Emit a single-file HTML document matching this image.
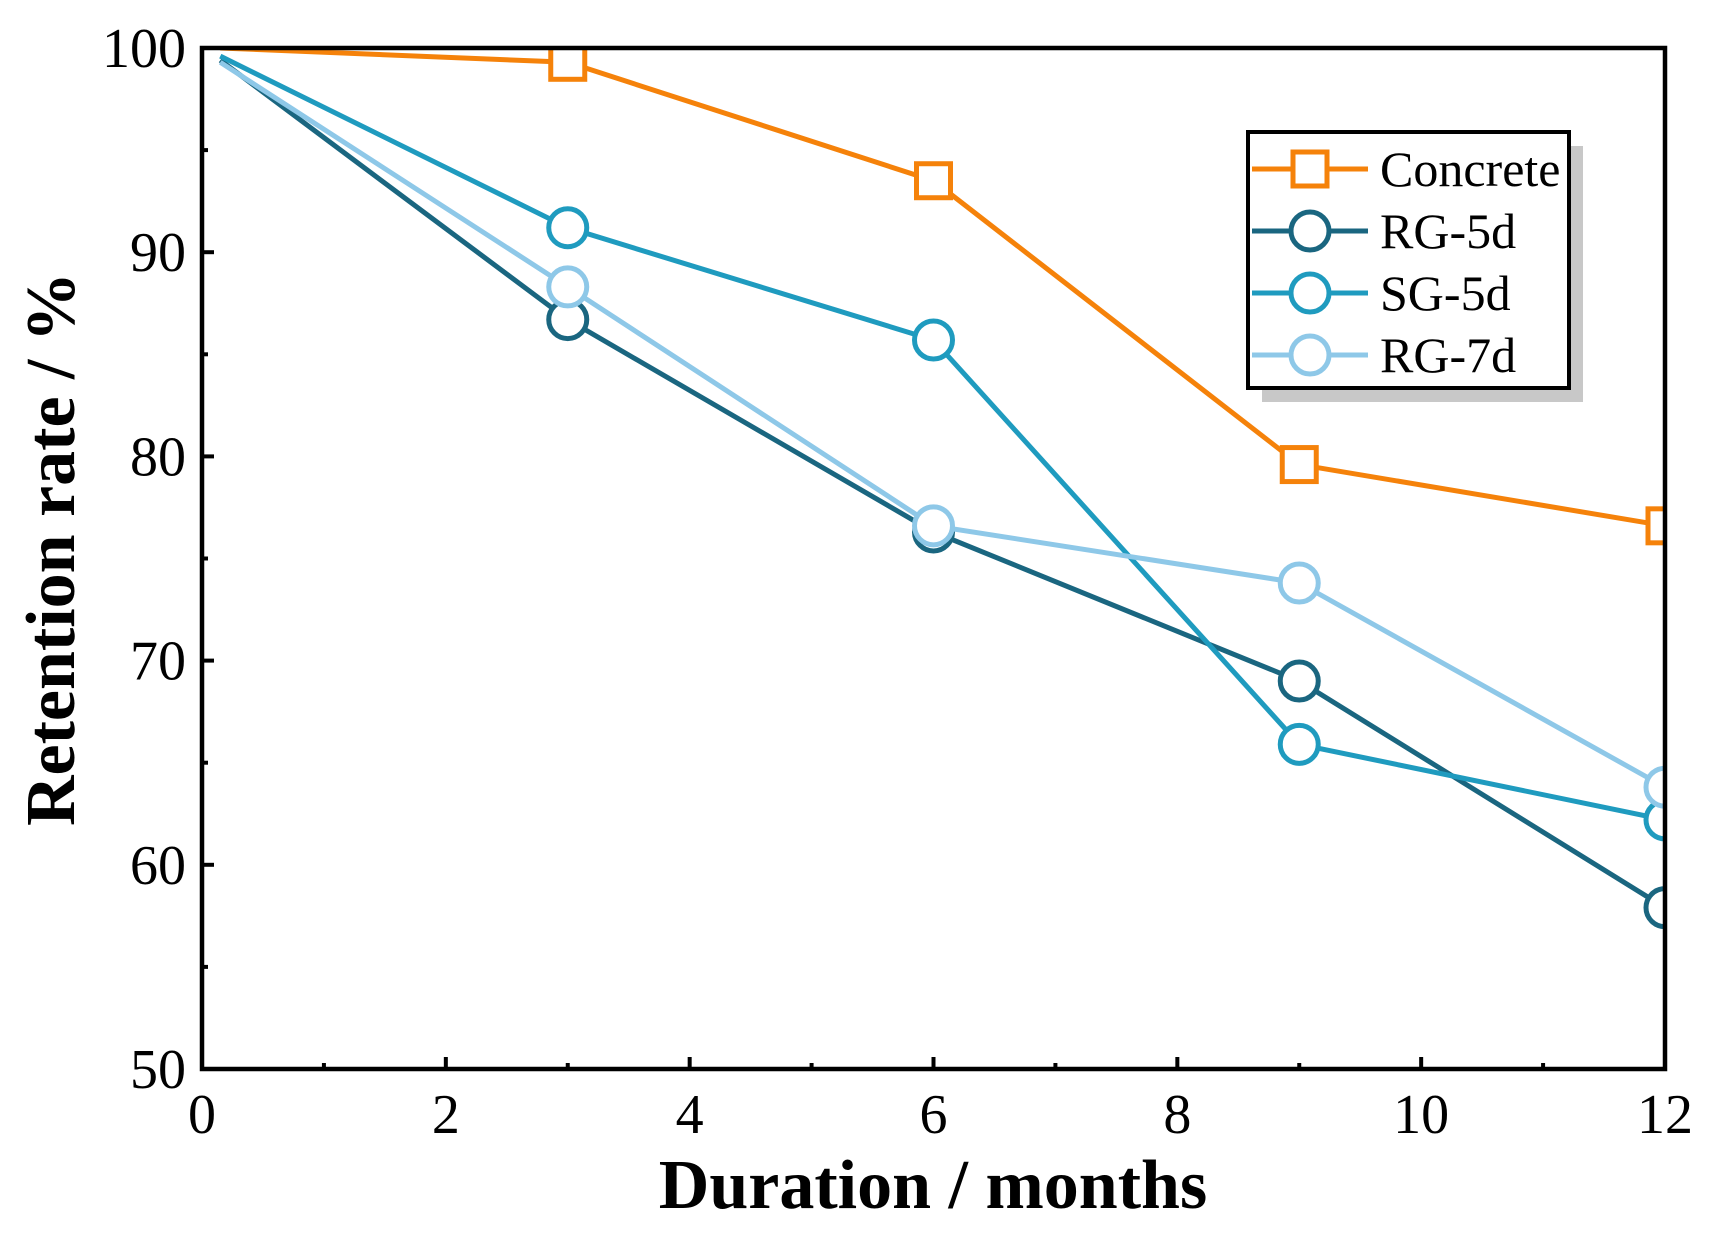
<!DOCTYPE html>
<html><head><meta charset="utf-8"><style>
html,body{margin:0;padding:0;background:#fff;}
svg{display:block;font-family:"Liberation Serif",serif;}
</style></head><body>
<svg id="chart" width="1712" height="1240" viewBox="0 0 1712 1240" xmlns="http://www.w3.org/2000/svg">
<defs><clipPath id="plotclip"><rect x="202" y="48" width="1463" height="1021"/></clipPath></defs>
<g id="axes"></g>
<g id="series" clip-path="url(#plotclip)"></g>
<rect x="202" y="48" width="1463" height="1021" fill="none" stroke="#000" stroke-width="4.5"/>
<g id="legend"></g>
<text x="933" y="1208" font-size="70" font-weight="bold" text-anchor="middle">Duration / months</text>
<text transform="translate(74,549) rotate(-90)" font-size="70" font-weight="bold" text-anchor="middle">Retention rate / %</text>
</svg>
<script>
const xMonths = [0.15, 3, 6, 9, 12];
const concrete = [100, 99.3, 93.5, 79.6, 76.6];
const rg5d = [99.4, 86.7, 76.3, 69.0, 57.9];
const sg5d = [99.6, 91.2, 85.7, 65.9, 62.2];
const rg7d = [99.3, 88.3, 76.6, 73.8, 63.8];
const xTicks = [0, 2, 4, 6, 8, 10, 12];
const yTicks = [50, 60, 70, 80, 90, 100];
const seriesNames = ["Concrete", "RG-5d", "SG-5d", "RG-7d"];

const NS = "http://www.w3.org/2000/svg";
const L = 202, R = 1665, T = 48, B = 1069;
const xs = v => L + (v - 0) / 12 * (R - L);
const ys = v => B - (v - 50) / 50 * (B - T);
function mk(tag, attrs, parent){const e=document.createElementNS(NS,tag);for(const k in attrs)e.setAttribute(k,attrs[k]);parent.appendChild(e);return e;}
const axes = document.getElementById('axes');
xTicks.forEach(t => {
  const ln = mk('line',{x1:xs(t),x2:xs(t),y1:B,y2:B-12,stroke:'#000','stroke-width':4},axes);
  
  
  const tx = mk('text',{x:xs(t),y:1133,'font-size':56,'text-anchor':'middle'},axes);
  tx.textContent = t;
  
  
});
for (let t = 1; t < 12; t += 2) {
  const ln = mk('line',{x1:xs(t),x2:xs(t),y1:B,y2:B-6,stroke:'#000','stroke-width':4},axes);
  
  
}
yTicks.forEach(t => {
  const ln = mk('line',{x1:L,x2:L+12,y1:ys(t),y2:ys(t),stroke:'#000','stroke-width':4},axes);
  
  
  const tx = mk('text',{x:186,y:ys(t)+19,'font-size':56,'text-anchor':'end'},axes);
  tx.textContent = t;
  
  
});
for (let t = 55; t < 100; t += 10) {
  const ln = mk('line',{x1:L,x2:L+6,y1:ys(t),y2:ys(t),stroke:'#000','stroke-width':4},axes);
  
  
}
const data = [concrete, rg5d, sg5d, rg7d];
const colors = ['#F5820A','#1A6680','#1F9BBF','#8EC8E8'];
const shapes = ['square','circle','circle','circle'];
const sg = document.getElementById('series');
function marker(g, shape, cx, cy, col){
  let m;
  if (shape==='square') m = mk('rect',{x:cx-17,y:cy-17,width:34,height:34,fill:'#fff',stroke:col,'stroke-width':5},g);
  else m = mk('circle',{cx:cx,cy:cy,r:19,fill:'#fff',stroke:col,'stroke-width':5},g);
  return m;
}
data.forEach((arr, i) => {
  const g = mk('g',{},sg);
  
  
  const pts = arr.map((v,j)=>xs(xMonths[j])+','+ys(v)).join(' ');
  const pl = mk('polyline',{points:pts,fill:'none',stroke:colors[i],'stroke-width':5},g);
  
  
  arr.forEach((v,j)=>{
    if (j===0) return;
    const m = marker(g, shapes[i], xs(xMonths[j]), ys(v), colors[i]);
    
    
  });
});
const lg = document.getElementById('legend');


mk('rect',{x:1262,y:146,width:321,height:256,fill:'#c8c8c8'},lg);
mk('rect',{x:1248,y:132,width:321,height:256,fill:'#fff',stroke:'#000','stroke-width':4},lg);
seriesNames.forEach((n,i)=>{
  const y = 169 + i*62;
  const e = mk('g',{},lg);
  
  
  mk('line',{x1:1252,x2:1368,y1:y,y2:y,stroke:colors[i],'stroke-width':5},e);
  marker(e, shapes[i], 1310, y, colors[i]);
  const t = mk('text',{x:1380,y:y+17,'font-size':50},e);
  t.textContent = n;
});
</script>
</body></html>
